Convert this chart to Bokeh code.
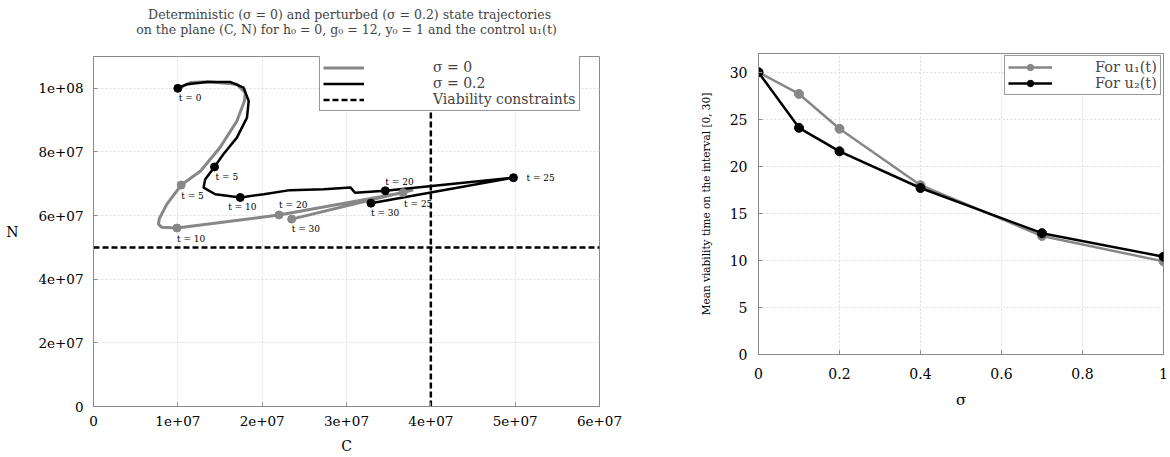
from bokeh.plotting import figure
from bokeh.models import Range1d, Legend, LegendItem, FixedTicker, ColumnDataSource
from bokeh.layouts import row
from bokeh.embed import file_html
from bokeh.resources import INLINE
from bokeh.core.properties import value

FONT = "DejaVu Serif"
GREY = "#878787"
FRAME = "#8a8a8a"
GRID = "#dcdcdc"
NBSP = "\u00a0"

# ---------------- left chart data ----------------
left_title_1 = "Deterministic (σ = 0) and perturbed (σ = 0.2) state trajectories"
left_title_2 = "on the plane (C, N) for h₀ = 0, g₀ = 12, y₀ = 1 and the control u₁(t)"
C_ticks = [0, 10000000, 20000000, 30000000, 40000000, 50000000, 60000000]
C_tick_labels = ["0", "1e+07", "2e+07", "3e+07", "4e+07", "5e+07", "6e+07"]
N_ticks = [0, 20000000, 40000000, 60000000, 80000000, 100000000]
N_tick_labels = ["0", "2e+07", "4e+07", "6e+07", "8e+07", "1e+08"]
C_range = [0, 6.0e7]
N_range = [0, 1.1e8]
C_limit = 4.0e7
N_limit = 5.0e7

# deterministic trajectory (sigma = 0)
det_C = [1.00e7, 1.15e7, 1.36e7, 1.70e7, 1.80e7, 1.79e7, 1.70e7, 1.50e7, 1.27e7, 1.04e7,
         0.87e7, 0.78e7, 0.77e7, 0.81e7, 0.99e7, 2.20e7, 3.67e7, 3.79e7, 2.35e7]
det_N = [1.000e8, 1.018e8, 1.021e8, 1.013e8, 0.986e8, 0.960e8, 0.897e8, 0.814e8, 0.740e8, 0.696e8,
         0.636e8, 0.590e8, 0.573e8, 0.563e8, 0.561e8, 0.602e8, 0.672e8, 0.681e8, 0.589e8]
det_mark_t = [5, 10, 20, 25, 30]
det_mark_C = [1.04e7, 0.99e7, 2.20e7, 3.67e7, 2.35e7]
det_mark_N = [0.696e8, 0.561e8, 0.602e8, 0.672e8, 0.589e8]

# perturbed trajectory (sigma = 0.2)
pert_C = [1.00e7, 1.11e7, 1.35e7, 1.62e7, 1.78e7, 1.84e7, 1.82e7, 1.70e7, 1.54e7, 1.435e7,
          1.325e7, 1.305e7, 1.444e7, 1.74e7, 2.02e7, 2.33e7, 2.73e7, 3.05e7, 3.10e7, 3.46e7,
          4.98e7, 3.29e7]
pert_N = [1.000e8, 1.013e8, 1.020e8, 1.020e8, 1.002e8, 0.960e8, 0.908e8, 0.845e8, 0.793e8, 0.753e8,
          0.714e8, 0.688e8, 0.667e8, 0.657e8, 0.667e8, 0.680e8, 0.683e8, 0.688e8, 0.672e8, 0.678e8,
          0.719e8, 0.639e8]
pert_mark_t = [0, 5, 10, 20, 25, 30]
pert_mark_C = [1.00e7, 1.435e7, 1.74e7, 3.46e7, 4.98e7, 3.29e7]
pert_mark_N = [1.000e8, 0.753e8, 0.657e8, 0.678e8, 0.719e8, 0.639e8]

# label offsets (screen px) for the time annotations
det_dx = [0, 0, 0, 1, 0]
det_dy = [11, 11, -10, 11, 10]
pert_dx = [1, 1, -12, 0, 13, 0]
pert_dy = [10, 10, 10, -9, 0, 10]

# ---------------- right chart data ----------------
sigma = [0, 0.1, 0.2, 0.4, 0.7, 1.0]
viab_u1 = [30, 27.7, 24.0, 18.0, 12.6, 9.9]
viab_u2 = [30, 24.1, 21.6, 17.7, 12.9, 10.4]
s_ticks = [0, 0.2, 0.4, 0.6, 0.8, 1]
s_tick_labels = ["0", "0.2", "0.4", "0.6", "0.8", "1"]
v_ticks = [0, 5, 10, 15, 20, 25, 30]
v_tick_labels = ["0", "5", "10", "15", "20", "25", "30"]
s_range = [0, 1]
v_range = [0, 32]


def style(p, xt, xl, yt, yl, tick_size):
    p.outline_line_color = FRAME
    p.outline_line_width = 1
    try:
        p.frame_align = False
    except Exception:
        pass
    for ax, t, l in ((p.below[0], xt, xl), (p.left[0], yt, yl)):
        ax.ticker = FixedTicker(ticks=t)
        ax.major_label_overrides = dict(zip(t, l))
        ax.major_label_text_font = FONT
        ax.major_label_text_font_size = tick_size
        ax.major_label_text_color = "black"
        ax.axis_line_color = FRAME
        ax.major_tick_line_color = FRAME
        ax.major_tick_in = 4
        ax.major_tick_out = 0
        ax.minor_tick_line_color = None
        ax.axis_label_text_font = FONT
        ax.axis_label_text_font_style = "normal"
        ax.axis_label_text_color = "black"
    p.xgrid.ticker = FixedTicker(ticks=xt)
    p.ygrid.ticker = FixedTicker(ticks=yt)
    p.grid.grid_line_color = GRID
    p.grid.grid_line_dash = "2 2"
    p.grid.grid_line_width = 1


# ================= left figure =================
p1 = figure(width=626, height=457, x_range=Range1d(*C_range), y_range=Range1d(*N_range),
            output_backend="svg", toolbar_location=None,
            min_border_left=93, min_border_right=27, min_border_top=56, min_border_bottom=51)
style(p1, C_ticks, C_tick_labels, N_ticks, N_tick_labels, "13.5px")
# two centred lines (the shorter first line is padded so the block looks centred);
# a blank third line lifts the block inside the top border
p1.title.text = NBSP * 3 + left_title_1 + "\n" + left_title_2 + "\n" + NBSP
p1.title.text_font = FONT
p1.title.text_font_size = "12.5px"
p1.title.text_font_style = "normal"
p1.title.align = "center"
p1.title.vertical_align = "top"
p1.title.standoff = 6
xa1, ya1 = p1.below[0], p1.left[0]
xa1.axis_label = "C"
ya1.axis_label = "N"
ya1.axis_label_orientation = "horizontal"
xa1.axis_label_text_font_size = "14px"
ya1.axis_label_text_font_size = "14px"
xa1.major_label_standoff = 9
xa1.axis_label_standoff = 9
ya1.major_label_standoff = 10
ya1.axis_label_standoff = 17

r_det = p1.line(det_C, det_N, line_color=GREY, line_width=3)
r_pert = p1.line(pert_C, pert_N, line_color="black", line_width=2.5)
p1.scatter(det_mark_C, det_mark_N, size=8, fill_color=GREY, line_color=GREY)
p1.scatter(pert_mark_C, pert_mark_N, size=8, fill_color="black", line_color="black")

r_lim = p1.line([C_range[0], C_range[1]], [N_limit, N_limit], line_color="black",
                line_width=2.5, line_dash="6 3")
p1.line([C_limit, C_limit], [N_range[0], N_range[1]], line_color="black",
        line_width=2.5, line_dash="6 3")

det_src = ColumnDataSource(dict(x=det_mark_C, y=det_mark_N, dx=det_dx, dy=det_dy,
                                text=[f"t = {t}" for t in det_mark_t]))
pert_src = ColumnDataSource(dict(x=pert_mark_C, y=pert_mark_N, dx=pert_dx, dy=pert_dy,
                                 text=[f"t = {t}" for t in pert_mark_t]))
for src in (det_src, pert_src):
    p1.text(x="x", y="y", text="text", x_offset="dx", y_offset="dy", source=src,
            text_font=value(FONT), text_font_size="9px", text_color="black",
            text_align="left", text_baseline="middle")

leg1 = Legend(items=[LegendItem(label="σ = 0", renderers=[r_det]),
                     LegendItem(label="σ = 0.2", renderers=[r_pert]),
                     LegendItem(label="Viability constraints", renderers=[r_lim])],
              location=(226, 295), label_text_font=FONT, label_text_font_size="14px",
              glyph_width=41, glyph_height=15, label_height=15, label_standoff=69,
              padding=3, spacing=0, margin=0, border_line_color="#333333",
              border_line_width=1, background_fill_alpha=1.0)
p1.add_layout(leg1)

# ================= right figure =================
p2 = figure(width=543, height=457, x_range=Range1d(*s_range), y_range=Range1d(*v_range),
            output_backend="svg", toolbar_location=None,
            min_border_left=132, min_border_right=6, min_border_top=53, min_border_bottom=103)
style(p2, s_ticks, s_tick_labels, v_ticks, v_tick_labels, "14px")
xa2, ya2 = p2.below[0], p2.left[0]
xa2.axis_label = "σ"
ya2.axis_label = "Mean viability time on the interval [0, 30]"
xa2.axis_label_text_font_size = "15px"
ya2.axis_label_text_font_size = "10.5px"
xa2.major_label_standoff = 13
xa2.axis_label_standoff = 9
ya2.major_label_standoff = 11
ya2.axis_label_standoff = 15

l1 = p2.line(sigma, viab_u1, line_color=GREY, line_width=2.5)
m1 = p2.scatter(sigma, viab_u1, size=9, fill_color=GREY, line_color=GREY)
l2 = p2.line(sigma, viab_u2, line_color="black", line_width=2.5)
m2 = p2.scatter(sigma, viab_u2, size=9, fill_color="black", line_color="black")

leg2 = Legend(items=[LegendItem(label="For u₁(t)", renderers=[l1, m1]),
                     LegendItem(label="For u₂(t)", renderers=[l2, m2])],
              location=(246, 259), label_text_font=FONT, label_text_font_size="14.5px",
              glyph_width=44, glyph_height=16, label_height=16, label_standoff=43,
              padding=3, spacing=0, margin=0, border_line_color="#333333",
              border_line_width=1, background_fill_alpha=1.0)
p2.add_layout(leg2)

layout = row(p1, p2)
open("out.html", "w").write(file_html(layout, INLINE))
